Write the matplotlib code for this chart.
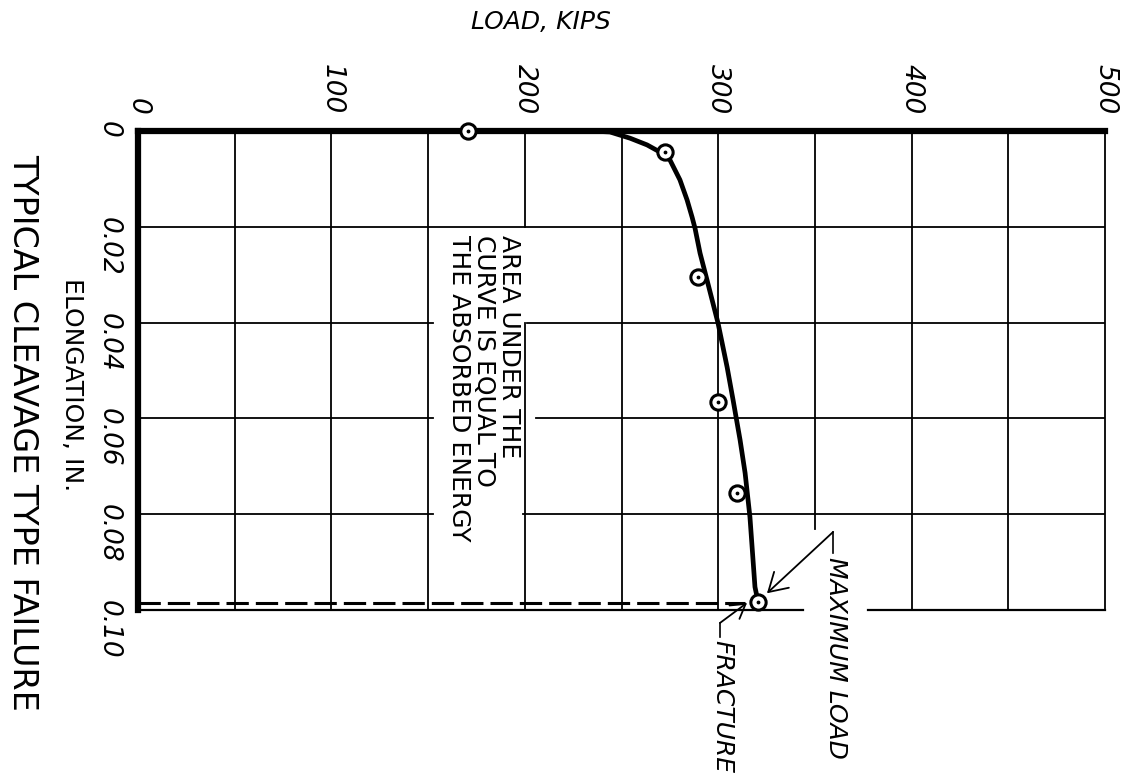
import matplotlib
matplotlib.use('Agg')
import matplotlib.pyplot as plt

# axis ticks
load_ticks = [0, 100, 200, 300, 400, 500]
load_labels = ['0', '100', '200', '300', '400', '500']
elong_ticks = [0, 0.02, 0.04, 0.06, 0.08, 0.10]
elong_labels = ['0', '0.02', '0.04', '0.06', '0.08', '0.10']

# load-elongation curve
curve_elong = [0, 0.0, 0.0002, 0.0015, 0.0029, 0.0044, 0.0061, 0.0102, 0.0144,
               0.0180, 0.0203, 0.0255, 0.0311, 0.0401, 0.0493, 0.0562, 0.0645,
               0.0714, 0.0806, 0.0952, 0.0973, 0.0983]
curve_load = [0, 234, 244, 254.4, 263.2, 269.9, 275.1, 280.2, 283.9,
              286.5, 288.0, 290.6, 294.2, 299.9, 304.6, 307.7, 311.3,
              313.9, 316.4, 319.0, 320.1, 320.6]

# measured points
point_elong = [0, 0.0044, 0.0305, 0.0566, 0.0756, 0.0983]
point_load = [170.6, 272.5, 289.6, 299.9, 309.7, 320.6]

# fracture
fracture_elong = 0.0985
fracture_load = 314

fig = plt.figure(figsize=(11.23, 7.84), dpi=100)
ax = fig.add_axes([0.1229, 0.2219, 0.8611, 0.6110])
ax.set_xlim(0, 500)
ax.set_ylim(0.10, 0)

# grid drawn by hand because some lines are broken around the notes
v_grid = [(50, 0, 0.1), (100, 0, 0.1), (150, 0, 0.1), (200, 0, 0.02), (200, 0.04, 0.1),
          (250, 0, 0.1), (300, 0, 0.1), (350, 0, 0.083), (400, 0, 0.1), (450, 0, 0.1)]
h_grid = [(0.02, 0, 500), (0.04, 0, 152.5), (0.04, 201, 500), (0.06, 0, 152.5),
          (0.06, 206, 500), (0.08, 0, 152.5), (0.08, 199, 500)]
for x, y0, y1 in v_grid:
    ax.plot([x, x], [y0, y1], color='black', lw=1.3, zorder=1)
for y, x0, x1 in h_grid:
    ax.plot([x0, x1], [y, y], color='black', lw=1.3, zorder=1)
# bottom border with gap
for x0, x1 in [(0, 344), (377.5, 500)]:
    ax.plot([x0, x1], [0.10, 0.10], color='black', lw=1.6, zorder=1, clip_on=False)

for s in ['top', 'left']:
    ax.spines[s].set_linewidth(4.5)
ax.spines['right'].set_linewidth(1.3)
ax.spines['bottom'].set_visible(False)

# curve + points
ax.plot(curve_load, curve_elong, color='black', lw=3.4, zorder=3, clip_on=False,
        solid_capstyle='round', solid_joinstyle='round')
ax.plot([0, fracture_load], [fracture_elong, fracture_elong],
        color='black', lw=2.2, dashes=(7.3, 2.3), zorder=3, clip_on=False)
ax.plot(point_load, point_elong, 'o', ms=11, mfc='white', mec='black', mew=2.2,
        zorder=5, clip_on=False)
ax.plot(point_load, point_elong, '.', ms=3.5, color='black', zorder=6, clip_on=False)

# ticks
ax.xaxis.tick_top()
ax.set_xticks(load_ticks)
ax.set_xticklabels(load_labels, fontstyle='italic')
ax.set_yticks(elong_ticks)
ax.set_yticklabels(elong_labels, fontstyle='italic')
ax.tick_params(axis='x', length=0, pad=12, labelsize=19, labelrotation=270)
ax.tick_params(axis='y', length=0, pad=12, labelsize=19, labelrotation=270)

ax.xaxis.set_label_position('top')
ax.set_xlabel('LOAD, KIPS', fontsize=18, fontstyle='italic')
ax.xaxis.label.set_va('center')
ax.xaxis.set_label_coords(0.417, 1.2276)

ax.set_ylabel('ELONGATION, IN.', fontsize=18, rotation=270)
ax.yaxis.label.set_va('center')
ax.yaxis.label.set_ha('center')
ax.yaxis.set_label_coords(-0.0683, 0.47)

fig.text(0.0205, 0.449, 'TYPICAL CLEAVAGE TYPE FAILURE', rotation=270,
         ha='center', va='center', fontsize=24)

# notes
ax.text(178.9, 0.0217, 'AREA UNDER THE\nCURVE IS EQUAL TO\nTHE ABSORBED ENERGY',
        rotation=270, ha='center', va='top', multialignment='left',
        fontsize=18, linespacing=1.05, zorder=4)

ax.text(360.9, 0.0889, 'MAXIMUM LOAD', rotation=270, ha='center', va='top',
        fontsize=18, fontstyle='italic')
ax.plot([359.4, 359.4], [0.0881, 0.0837], color='black', lw=1.2, clip_on=False)
ax.annotate('', xy=(325.2, 0.0965), xytext=(359.4, 0.0837), annotation_clip=False,
            arrowprops=dict(arrowstyle='->, head_length=0.5, head_width=0.3', lw=1.3,
                            shrinkA=0, shrinkB=0, mutation_scale=26, color='black'))

ax.text(302, 0.1063, 'FRACTURE', rotation=270, ha='center', va='top',
        fontsize=18, fontstyle='italic')
ax.plot([300.9, 300.9], [0.1056, 0.1027], color='black', lw=1.2, clip_on=False)
ax.annotate('', xy=(314.9, 0.0985), xytext=(300.9, 0.1027), annotation_clip=False,
            arrowprops=dict(arrowstyle='->, head_length=0.5, head_width=0.3', lw=1.3,
                            shrinkA=0, shrinkB=0, mutation_scale=20, color='black'))

fig.savefig('out.png', dpi=100, facecolor='white')
